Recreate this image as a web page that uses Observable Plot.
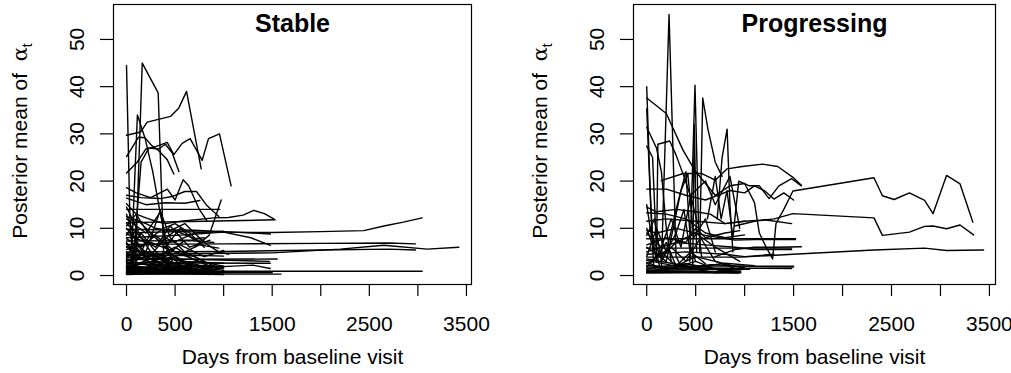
<!DOCTYPE html>
<html><head><meta charset="utf-8">
<script src="https://cdn.jsdelivr.net/npm/d3@7"></script>
<script src="https://cdn.jsdelivr.net/npm/@observablehq/plot@0.6"></script>
<style>
body{margin:0;background:#fff;}
#wrap{display:flex;width:1011px;height:373px;}
</style></head><body><div id="wrap"></div>
<script>
const panelTitles = ["Stable", "Progressing"];
const xLabel = "Days from baseline visit";
const yLabelText = "Posterior mean of  ";
const xTicks = [0, 500, 1000, 1500, 2000, 2500, 3000, 3500];
const xTickLabels = [0, 500, 1500, 2500, 3500];
const yTicks = [0, 10, 20, 30, 40, 50];

// each subject: [day, posterior mean] pairs
const stableLines = [
 [[0,44.5],[35,12],[70,1.5],[250,1.2]],
 [[90,1.2],[162,45],[326,38.7],[385,3],[460,1.5]],
 [[0,29.7],[144,30.4],[213,32.5],[453,33.7],[539,35.5],[618,39],[769,22.6]],
 [[0,25.2],[124,29.3],[190,29.2],[260,27.5],[330,26.5],[420,24.5],[487,21.5]],
 [[0,21.7],[110,24],[200,26.8],[300,27.3],[419,28.2],[487,25.6],[573,28],[655,29],[779,24.4],[844,29],[957,30],[1077,19]],
 [[45,1],[112,34],[192,29],[270,22],[340,14],[410,7],[470,3]],
 [[70,3],[150,24],[230,27],[330,26.8],[400,27.8],[470,26],[540,22]],
 [[0,18.6],[100,17.5],[250,16.5],[420,18.3],[500,16],[583,20.3],[640,19],[750,14],[830,11.5]],
 [[0,17],[150,16.5],[350,16.3],[480,16.8],[600,17.8],[720,17.8],[820,15],[950,12.5]],
 [[0,16.4],[200,15],[400,15.4],[600,15.3],[755,15.9]],
 [[0,14],[960,14]],
 [[0,15.2],[100,13],[200,12.2],[300,11.5],[400,11],[560,11.5],[900,12.2],[1050,12.3],[1200,12.8],[1311,13.8],[1420,13.1],[1516,12]],
 [[0,11.2],[800,11.5],[1530,11.8]],
 [[0,9],[500,9.3],[1000,9.2],[1500,9.1],[2000,9.3],[2443,9.5],[2650,10.5],[2850,11.3],[3044,12.2]],
 [[0,9.8],[700,9.6],[1000,9.3],[1482,8.8]],
 [[0,8],[600,8.6],[1000,9.2],[1280,8],[1482,6.4]],
 [[0,6.6],[1000,6.7],[2000,6.8],[2700,6.9],[2975,6.7]],
 [[0,4.5],[1500,4.8],[2200,5.6],[2649,6.4],[3095,5.6],[3421,6]],
 [[0,5],[1000,5.1],[2000,5.4],[2700,5.6],[2975,5.4]],
 [[0,3.4],[1551,3.5]],
 [[0,2.7],[1480,2.6]],
 [[0,0.9],[3044,0.9]],
 [[0,1.8],[900,1.8],[1100,2],[1300,2.2],[1480,1.5]],
 [[0,0.3],[1590,0.3]],
 [[0,0.6],[1500,0.6]],
 [[0,13],[100,7],[200,4],[400,2],[600,1]],
 [[0,12],[200,9],[350,13.5],[450,8],[600,5],[800,3]],
 [[0,10],[150,6],[300,8.5],[500,5],[700,4],[900,2]],
 [[0,7],[100,3],[250,9],[400,6],[550,10],[700,7.5]],
 [[0,3],[200,5],[400,4],[600,7.5],[800,7.5]],
 [[0,5.5],[250,7],[500,5],[750,3],[1000,2]],
 [[0,2],[300,3],[600,2.5],[950,1.5]],
 [[0,1.2],[950,1.2]],
 [[0,4],[150,9],[300,5],[450,3],[600,2]],
 [[0,6],[200,3],[400,8],[600,6],[800,4],[1000,5.3]],
 [[0,2.5],[500,2.2],[990,2]],
 [[0,3.8],[1470,3]],
 [[0,1.5],[700,1.5],[1000,0.5]],
 [[700,6],[850,8.5],[975,16]],
 [[0,12.5],[200,11],[300,10],[450,9.5],[600,11],[800,7],[950,5],[1050,4.5]],
 [[0,8.5],[100,12],[200,10],[350,7],[500,9.5],[700,7.8],[800,8]],
 [[0,14.5],[60,12],[150,8],[250,5],[350,3.5],[500,4],[650,2]],
 [[0,10.5],[100,13],[250,8],[380,10],[500,11],[650,9],[800,6]],
 [[0,4.2],[700,4.3],[1000,4.1]],
 [[0,7.3],[650,7.4],[900,7]],
 [[0,0.8],[300,1.5],[600,0.6],[950,0.4]],
 [[0,2.2],[400,1],[800,1.4]],
 [[0,3.2],[300,1.8],[600,3],[1000,2.6]],
 [[0,1],[400,0.5],[880,0.8]],
 [[0,0.4],[500,0.8],[960,0.3]],
 [[0,2.9],[200,1],[500,2],[800,0.8]],
 [[0,5],[120,2.5],[300,4],[500,1.5],[720,3]],
 [[0,6.2],[300,4],[500,6],[680,3.5],[860,2]],
 [[0,1.6],[350,3.5],[700,1],[900,1.8]],
 [[0,3.6],[100,6],[250,2.5],[400,5],[600,1.5]],
 [[0,0.5],[250,2],[500,0.4],[700,1.2]],
 [[0,7.8],[200,5],[347,13.8],[420,5],[600,3]],
 [[0,11],[150,8],[300,6],[450,10.5],[650,6],[860,7.5]],
 [[0,0.2],[400,0.4],[1000,0.2]],
 [[0,0.7],[600,0.5],[1000,0.7]],
 [[0,1.3],[200,0.6],[450,1.6],[700,0.3],[920,0.9]],
 [[0,2.4],[150,1.4],[400,2.8],[650,1.1],[930,1.2]],
 [[0,1.9],[250,1.1],[500,1.9],[750,0.5],[980,0.6]],
 [[0,0.9],[350,2.2],[600,1.3],[850,0.2]],
 [[0,4.6],[200,3.2],[450,1.2],[700,2],[900,0.9]],
 [[0,3.1],[250,4.2],[500,3.3],[750,2.2],[1000,1.4]],
 [[0,0.4],[150,1.8],[400,1.1],[650,2.1],[1000,1.1]],
 [[0,1.7],[300,0.3],[550,1.4],[800,2.2],[1000,1.7]],
 [[0,6.8],[150,4.5],[350,2.5],[550,4.5],[750,6.5],[950,5.8]],
 [[0,8.8],[250,6.5],[500,7.2],[700,9],[1000,9.4]]
];

const progLines = [
 [[150,2],[228,55.3],[300,4],[350,2]],
 [[0,40],[40,15],[70,2],[200,1.5]],
 [[0,37.6],[200,34.3],[372,26.5],[493,22.2],[600,19.5],[700,17]],
 [[0,35.3],[30,20],[60,8],[100,3]],
 [[0,31.4],[100,27],[150,22],[200,10],[250,3]],
 [[0,27.4],[60,25],[100,5],[130,2]],
 [[100,3],[114,27.8],[235,28.5],[300,25.5],[380,21],[460,16],[520,11]],
 [[440,3],[493,40.3],[530,10],[560,4]],
 [[540,5],[572,37.6],[625,31],[700,24],[770,21]],
 [[470,2],[486,32],[510,5]],
 [[720,12],[770,25],[821,31],[850,15],[880,5]],
 [[148,20.1],[372,21.6],[563,21.6],[700,20.2],[821,22.6],[976,23.1],[1183,23.6],[1338,23.1],[1493,20.8],[1579,19.1]],
 [[700,17],[850,19],[1000,19.5],[1100,15.5],[1150,9],[1220,6],[1286,3.5],[1320,11],[1400,14],[1493,17.9],[2321,20.7],[2407,16.9],[2527,16.1],[2683,17.5],[2838,15.9],[2924,13.1],[3062,21.2],[3200,19.4],[3331,11.3]],
 [[900,10.5],[1100,11.5],[1303,12],[1493,13.1],[2321,12.2],[2407,8.5],[2683,9.2],[2838,10.4],[2924,10.5],[3062,9.9],[3200,10.7],[3338,8.6]],
 [[0,3.9],[960,3.9],[1493,4.5],[2321,5.4],[2838,5.8],[3062,5.3],[3441,5.4]],
 [[0,18.3],[200,18.3],[400,17],[600,16],[850,18],[1000,17.5],[1100,19],[1200,18],[1300,16.2],[1400,17.5],[1500,16]],
 [[0,7.8],[1520,7.8]],
 [[0,5.8],[1479,5.8]],
 [[0,2],[1500,2]],
 [[0,1.6],[1480,1.5]],
 [[0,0.7],[958,0.7]],
 [[0,0.9],[900,0.8]],
 [[0,1.2],[1050,1.3]],
 [[700,4],[900,5.5],[1100,6],[1300,6],[1579,6.1]],
 [[0,11.5],[200,12],[500,11.5],[800,11],[1000,11.5],[1200,11.8],[1480,11]],
 [[0,9.5],[100,9],[300,10],[600,8.5],[900,7.5],[1100,7.6],[1520,7.6]],
 [[0,14.5],[100,13.5],[300,14],[500,13.5],[650,13],[800,11],[1000,11.5]],
 [[0,13.3],[200,13],[400,12],[600,9],[800,8],[1000,8.6]],
 [[0,15],[50,8],[150,4],[300,7],[500,9],[700,6],[950,3]],
 [[0,4],[100,10],[200,5],[300,14],[400,22],[450,6],[500,3]],
 [[0,9],[150,6],[250,12],[350,6],[450,17],[600,20],[700,15],[850,21],[950,10]],
 [[0,6],[200,3],[350,18],[420,21.5],[480,8],[600,12],[700,5]],
 [[0,2.5],[250,6],[400,3],[550,8],[700,3],[900,1.5]],
 [[0,3.2],[300,2],[500,4],[700,3],[900,2]],
 [[0,5],[300,7],[600,6.5],[900,6],[1100,5.5],[1480,5.5]],
 [[0,4.5],[400,5],[800,4.5],[1000,4],[1300,4.5]],
 [[0,1.8],[150,5],[300,2],[600,1.5],[960,1.5]],
 [[0,10],[100,4],[200,7],[300,2],[450,5],[600,2.5]],
 [[0,8.5],[80,12],[150,3],[300,9],[380,14],[450,4]],
 [[620,12],[700,21],[760,12],[820,18],[880,8],[940,20],[1050,19],[1150,19],[1250,16.3],[1350,19],[1480,20.5],[1580,19]],
 [[0,6.5],[200,8],[400,7],[500,10],[600,8],[800,9],[950,9.5]],
 [[0,1],[500,0.9],[960,0.6]],
 [[0,1.4],[400,2.5],[800,1],[1000,1.8]],
 [[0,2.8],[200,1.2],[500,3],[750,1],[960,1.2]],
 [[0,0.5],[400,0.6],[940,0.5]],
 [[0,2.2],[300,1.4],[650,2.3],[1000,1.9],[1500,1.8]],
 [[0,3.5],[250,2.6],[500,1.7],[800,2.6],[1100,2.1]],
 [[0,0.8],[350,1.9],[700,0.6],[960,0.9]]
];

function rows(lines) {
  return lines.flatMap((pts, i) => pts.map(([day, value]) => ({id: i, day, value})));
}

function panel(lines, title, w, ml, mr, xDomain) {
  const font = "'Liberation Sans', Arial, Helvetica, sans-serif";
  const svg = Plot.plot({
    width: w, height: 373,
    marginLeft: ml, marginRight: mr, marginTop: 4, marginBottom: 89,
    style: {fontFamily: font, fontSize: "21px", background: "white", color: "black", overflow: "visible"},
    x: {domain: xDomain},
    y: {domain: [-1.9, 57.4]},
    marks: [
      Plot.line(rows(lines), {x: "day", y: "value", z: "id", stroke: "black", strokeWidth: 1.4}),
      Plot.frame({stroke: "black", strokeWidth: 1.2}),
      Plot.axisX(xTicks, {tickSize: 12, tickPadding: 20, tickFormat: d => xTickLabels.includes(d) ? String(d) : "", fontSize: 21, label: null, strokeWidth: 1.2}),
      Plot.axisY(yTicks, {tickSize: 13, tickPadding: 17, tickRotate: -90, fontSize: 21, label: null, strokeWidth: 1.2}),
      Plot.text([title], {frameAnchor: "top", dy: 27, lineAnchor: "bottom", fontWeight: "bold", fontSize: 25}),
      Plot.text([xLabel], {frameAnchor: "bottom", dy: 79, lineAnchor: "bottom", fontSize: 21})
    ]
  });
  const yl = d3.select(svg).append("text")
    .attr("transform", `translate(${ml - 86},141) rotate(-90)`)
    .attr("text-anchor", "middle")
    .attr("font-size", 21)
    .attr("font-family", font)
    .attr("fill", "black");
  yl.append("tspan").text(yLabelText);
  yl.append("tspan").attr("font-family", "'DejaVu Serif', serif").text("α");
  yl.append("tspan").attr("font-size", 14).attr("dy", 5).text("t");
  return svg;
}

const wrap = document.getElementById("wrap");
wrap.append(panel(stableLines, panelTitles[0], 505, 113, 34, [-134, 3552]));
wrap.append(panel(progLines, panelTitles[1], 506, 128, 16, [-135, 3562]));
</script></body></html>
